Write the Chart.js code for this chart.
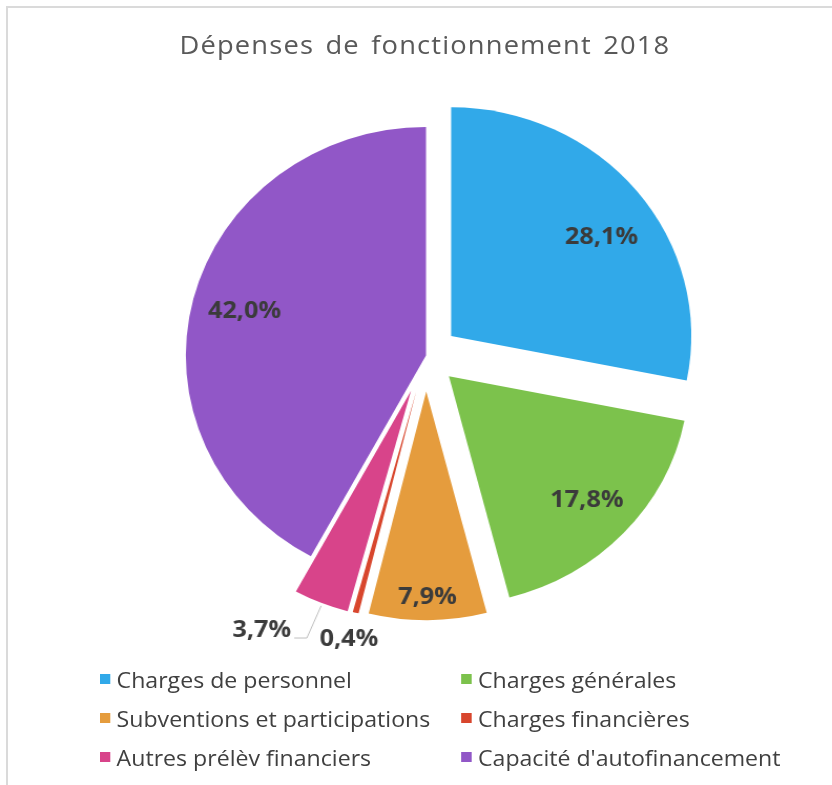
<!DOCTYPE html>
<html>
<head>
<meta charset="utf-8">
<script src="https://cdn.jsdelivr.net/npm/chart.js@4.4.0/dist/chart.umd.min.js"></script>
<style>
  html, body { margin: 0; padding: 0; background: #fff; }
  body { width: 832px; height: 785px; position: relative; overflow: hidden; font-family: "Open Sans", sans-serif; }
  .frame { position: absolute; left: 6px; top: 6px; right: 0; bottom: 0; border-left: 2px solid #dadada; border-top: 2px solid #dadada; }
  /* la figure d'origine est légèrement étirée en largeur */
  #page { position: absolute; left: 0; top: 0; width: 792px; height: 785px; transform: scaleX(1.0505); transform-origin: 0 0; }
  #title { position: absolute; left: 17px; right: 0; top: 26px; text-align: center; font-size: 26px; line-height: 36px;
           letter-spacing: 1.1px; word-spacing: 3px; color: #595959; }
  #wrap { position: absolute; left: 0; top: 0; width: 792px; height: 785px; }
  #legend { position: absolute; left: 95px; top: 659px; display: grid; grid-template-columns: 344px auto; }
  .item { display: flex; align-items: center; height: 39px; font-size: 22px; color: #404040; white-space: nowrap; }
  .box { width: 10px; height: 10px; margin-right: 6px; flex: none; }
</style>
</head>
<body>
<div class="frame"></div>
<div id="page">
  <div id="title">Dépenses de fonctionnement 2018</div>
  <div id="wrap"><canvas id="pieChart"></canvas></div>
  <div id="legend"></div>
</div>

<script>
// données
const labels = ['Charges de personnel', 'Charges générales', 'Subventions et participations',
                'Charges financières', 'Autres prélèv financiers', "Capacité d'autofinancement"];
const values = [28.1, 17.8, 7.9, 0.4, 3.7, 42.0];
const colors = ['#31a9e9', '#7cc24c', '#e59c3d', '#d8462d', '#d8448a', '#9157c7'];

// style : éclatement des parts et placement des étiquettes
const explode = [31, 30, 36, 37, 38, 0];
const labelPlace = [
  { r: 0.77, dx: 7, dy: 13 }, { r: 0.79 }, { r: 0.89, dy: 2 },
  { r: 1.11, dy: 2 },
  { r: 1.1, dx: -48, dy: 6, leader: true },
  { r: 0.78 }
];

const fmt = v => v.toFixed(1).replace('.', ',') + '%';

// décale chaque part le long de son angle médian
const explodePlugin = {
  id: 'explode',
  afterDatasetsUpdate(chart) {
    chart.getDatasetMeta(0).data.forEach((arc, i) => {
      const d = explode[i] || 0;
      const mid = (arc.startAngle + arc.endAngle) / 2;
      arc.x += Math.cos(mid) * d;
      arc.y += Math.sin(mid) * d;
    });
  }
};

// étiquettes de pourcentage
const valueLabels = {
  id: 'valueLabels',
  afterDatasetsDraw(chart) {
    const ctx = chart.ctx;
    const meta = chart.getDatasetMeta(0);
    ctx.save();
    ctx.font = 'bold 24px "Open Sans", sans-serif';
    ctx.fillStyle = '#3b3b3b';
    ctx.textAlign = 'center';
    ctx.textBaseline = 'middle';
    meta.data.forEach((arc, i) => {
      const p = labelPlace[i];
      const mid = (arc.startAngle + arc.endAngle) / 2;
      const R = arc.outerRadius;
      const x = arc.x + Math.cos(mid) * R * p.r + (p.dx || 0);
      const y = arc.y + Math.sin(mid) * R * p.r + (p.dy || 0);
      const txt = fmt(values[i]);
      ctx.fillText(txt, x, y);
      if (p.leader) {
        const w = ctx.measureText(txt).width;
        const ex = arc.x + Math.cos(mid) * R;
        const ey = arc.y + Math.sin(mid) * R;
        ctx.strokeStyle = '#bfbfbf';
        ctx.lineWidth = 1;
        ctx.beginPath();
        ctx.moveTo(ex, ey + 3);
        ctx.lineTo(x + w / 2 + 15, y + 8);
        ctx.lineTo(x + w / 2 + 3, y + 8);
        ctx.stroke();
      }
    });
    ctx.restore();
  }
};

const chart = new Chart(document.getElementById('pieChart'), {
  type: 'pie',
  data: {
    labels: labels,
    datasets: [{
      data: values,
      backgroundColor: colors,
      borderWidth: 0
    }]
  },
  options: {
    responsive: true,
    maintainAspectRatio: false,
    animation: false,
    radius: 228.6,
    layout: { padding: { left: 19, right: 0, top: 80, bottom: 153.8 } },
    plugins: {
      legend: { display: false },
      title: { display: false },
      tooltip: { enabled: false }
    }
  },
  plugins: [explodePlugin, valueLabels]
});

// légende HTML en deux colonnes, à partir des entrées générées par Chart.js
const legendBox = document.getElementById('legend');
chart.options.plugins.legend.labels.generateLabels(chart).forEach(item => {
  const row = document.createElement('div');
  row.className = 'item';
  const box = document.createElement('span');
  box.className = 'box';
  box.style.background = item.fillStyle;
  row.append(box, document.createTextNode(item.text));
  legendBox.append(row);
});
</script>
</body>
</html>
